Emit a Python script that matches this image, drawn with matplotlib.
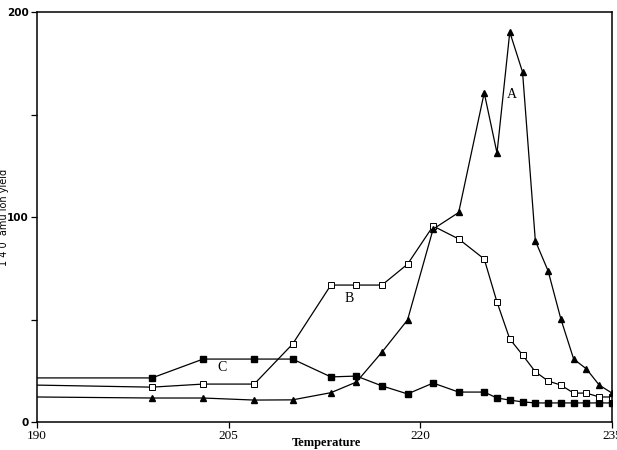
import matplotlib
matplotlib.use("Agg")
import matplotlib.pyplot as plt

temperature = [190, 199, 203, 207, 210, 213, 215, 217, 219, 221, 223, 225,
               226, 227, 228, 229, 230, 231, 232, 233, 234, 235]
series_a = [12.2, 11.7, 11.7, 10.7, 10.8, 14.3, 19.5, 34.1, 49.8, 94.1, 102.2,
            160.6, 131.2, 190.2, 170.7, 88.4, 73.7, 50.2, 30.7, 25.9, 18.0, 14.1]
series_b = [18.0, 17.0, 18.5, 18.5, 38.0, 66.8, 66.8, 66.8, 77.0, 95.6, 89.3,
            79.5, 58.5, 40.5, 32.7, 24.5, 20.0, 18.0, 14.1, 14.1, 12.2, 12.2]
series_c = [21.5, 21.5, 30.7, 30.7, 30.7, 22.0, 22.4, 17.6, 13.7, 19.0, 14.6,
            14.6, 11.7, 10.7, 9.8, 9.3, 9.3, 9.3, 9.3, 9.3, 9.3, 9.3]
x_ticks = [190, 205, 220, 235]
y_ticks = [0, 50, 100, 150, 200]
y_tick_labels = ["0", "", "100", "", "200"]
labels = {"A": (227.2, 160), "B": (214.4, 60), "C": (204.5, 26.5)}

fig = plt.figure(figsize=(6.17, 4.5), dpi=100)
ax = fig.add_axes([37/617, 28/450, 575/617, 410/450])

mk = list(range(1, len(temperature)))
kw = dict(color="black", lw=0.9, markevery=mk)
ax.plot(temperature, series_c, marker="s", ms=4.3, mfc="black", mec="black", **kw)
ax.plot(temperature, series_b, marker="s", ms=4.6, mfc="white", mec="black", mew=0.7, **kw)
ax.plot(temperature, series_a, marker="^", ms=4.6, mfc="black", mec="black", **kw)

for name, (xx, yy) in labels.items():
    ax.text(xx, yy, name, fontsize=10, family="Liberation Serif", ha="center", va="center")

ax.set_xlim(190, 235)
ax.set_ylim(0, 200)
ax.set_xticks(x_ticks)
ax.set_xticklabels([str(t) for t in x_ticks], family="Liberation Serif", fontsize=9.5)
ax.set_yticks(y_ticks)
ax.set_yticklabels(y_tick_labels, family="DejaVu Sans", fontsize=7.5, fontweight="bold")
ax.tick_params(axis="both", direction="out", length=4, width=0.9, pad=2)
for s in ax.spines.values():
    s.set_linewidth(1.1)

ax.set_xlabel("Temperature", family="Liberation Serif", fontsize=9, fontweight="bold")
ax.xaxis.set_label_coords(0.503, -0.036)
ax.set_ylabel("1 4 0  amu ion yield", family="DejaVu Sans", fontsize=7)
ax.yaxis.set_label_coords(-0.049, 0.5)

fig.savefig("out.png", dpi=100)
